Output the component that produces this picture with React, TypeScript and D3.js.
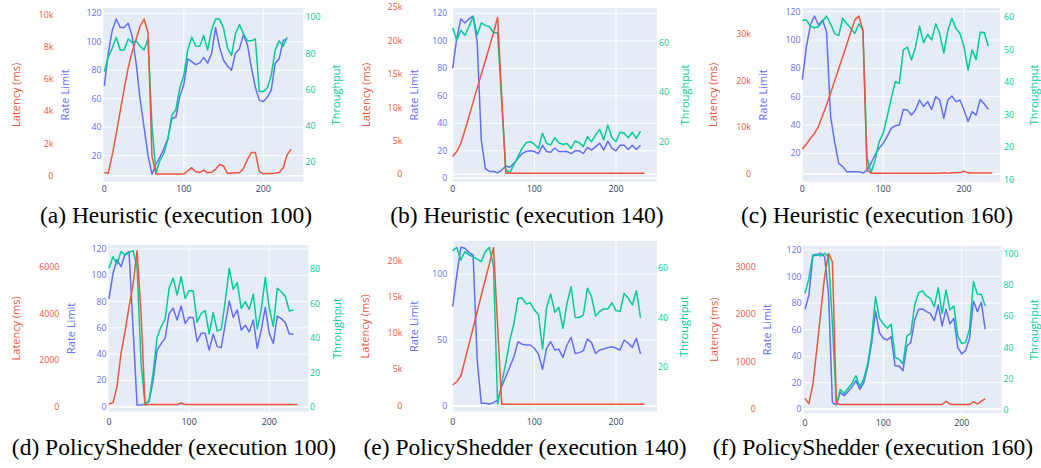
import React from 'react';
import * as d3 from 'd3';

// sample positions (seconds into the run)
const steps = [0, 5, 10, 15, 20, 25, 30, 35, 40, 45, 50, 55, 60, 65, 70, 75, 80, 85, 90, 95, 100, 105, 110, 115, 120,
  125, 130, 135, 140, 145, 150, 155, 160, 165, 170, 175, 180, 185, 190, 195, 200, 205, 210, 215, 220, 225, 230, 235];
const xTicks = [0, 100, 200];

// (a) Heuristic, execution 100
const rateA = [69, 92, 108, 116, 110, 110, 113, 104, 85, 60, 40, 20, 7, 14, 19, 25, 32, 46, 47, 62, 70, 88, 86, 84, 85, 89, 85,
  92, 110, 96, 87, 83, 80, 92, 95, 105, 98, 82, 68, 59, 58, 61, 66, 85, 88, 101, 102];
const thrA = [70, 78, 83, 89, 82, 82, 88, 86, 87, 84, 82, 88, 40, 14, 21, 25, 33, 46, 49, 61, 68, 82, 89, 84, 84, 90, 82,
  93, 99, 99, 94, 83, 79, 91, 96, 91, 87, 87, 88, 59, 59, 61, 68, 82, 87, 84, 89];
const latA = [200, 150, 1300, 2600, 4000, 5400, 6700, 7700, 8500, 9300, 9750, 8900, 1200, 100, 100, 100, 100, 100, 100, 100,
  120, 300, 500, 250, 200, 350, 180, 220, 400, 700, 600, 150, 150, 180, 180, 450, 1000, 1450, 1450, 250, 120, 130, 140, 150,
  200, 500, 1300, 1650];

// (b) Heuristic, execution 140
const rateB = [80, 102, 116, 113, 116, 118, 99, 28, 7, 5, 5, 4, 6, 9, 8, 11, 14.5, 18, 19.5, 20, 19.5, 18, 24, 19.5, 19, 22,
  19.5, 19.5, 19.5, 18, 20, 20, 18, 22.5, 20.5, 23, 25.5, 20.5, 27, 22, 20, 24, 24, 21, 24, 21, 24];
const thrB = [66, 61, 65, 63, 66.5, 70.5, 63, 68, 67, 66.5, 64, 64, 36, 8.6, 7.5, 10.6, 14, 17.3, 19.6, 20, 19, 17.3, 23.4,
  19.3, 18.7, 21.6, 19.6, 18.9, 19.3, 17.3, 20.3, 19.6, 18, 22, 20, 22.7, 25, 20.7, 26.7, 21.6, 20, 23.8, 23.4, 21.6, 23.8,
  21.3, 24.3];
const latB = [2650, 3400, 4650, 6600, 8700, 10800, 12900, 15000, 17000, 19100, 21200, 23500, 11800, 150, 150, 150, 150, 150,
  150, 150, 150, 150, 150, 150, 150, 150, 150, 150, 150, 150, 150, 150, 150, 150, 150, 150, 150, 150, 150, 150, 150, 150, 150,
  150, 150, 150, 150, 150];

// (c) Heuristic, execution 160
const rateC = [72, 95, 110.6, 117, 110.6, 114, 106, 46, 28, 13, 10.6, 7, 7, 7, 7, 6, 8, 13, 19, 23.5, 27, 32, 37.6, 39.5, 40,
  51, 50.6, 47, 50.6, 57.6, 53, 56.5, 51, 60, 57.6, 44.7, 57.6, 60.5, 56.5, 57.6, 50.6, 42.4, 49.4, 47, 58, 55, 51];
const thrC = [59, 59.2, 57.3, 56.8, 57.1, 58.7, 60.4, 58, 55, 54.4, 59.7, 58, 56.6, 55, 58, 56, 17, 12.3, 16, 21.8, 24.3, 29.5,
  35, 40.2, 39.7, 50, 50.8, 46.9, 50.8, 57.3, 52.2, 54.8, 53, 58, 55, 49, 56, 59.7, 56.6, 55, 51, 43.8, 50, 47, 55.4, 55.3, 51.2];
const latC = [5300, 6400, 7600, 8700, 10200, 12500, 14800, 17400, 20000, 22600, 25200, 27800, 30500, 33100, 33900, 30800, 900,
  150, 150, 150, 150, 150, 150, 150, 150, 150, 150, 150, 150, 150, 150, 150, 150, 150, 150, 250, 180, 250, 250, 300, 600, 250,
  200, 200, 200, 200, 200, 200];

// (d) PolicyShedder, execution 100
const rateD = [82, 101.5, 112, 106.5, 116, 118, 60, 1.3, 1.3, 2, 3.8, 20, 43, 48, 52, 71, 75, 66, 76.6, 63.4, 68, 67.7, 49.5,
  55.8, 55.8, 43, 55.3, 45.7, 45, 62.7, 80.4, 68, 73.6, 58.3, 62, 57, 66, 44.4, 58.9, 75.6, 55.8, 48.2, 69, 67, 64, 55.3, 55.3];
const thrD = [80.6, 87.3, 83, 90.2, 88.3, 89.7, 90.8, 81.5, 25.5, 1.4, 4.3, 19.7, 40.6, 46.8, 51, 69, 74.8, 65, 75.7, 63.2,
  67.6, 67.6, 49.3, 54.5, 56, 42.5, 54.9, 44.3, 45.2, 61.3, 80.6, 68.4, 72.3, 57.4, 61.3, 56.8, 65.5, 45.4, 56.8, 75.2, 57.4,
  46.8, 69, 67, 64.2, 55.8, 56.4];
const latD = [140, 200, 880, 2300, 3230, 4290, 5220, 6680, 4000, 100, 120, 120, 120, 120, 120, 120, 120, 120, 180, 120, 120,
  120, 120, 120, 120, 120, 120, 120, 120, 120, 120, 120, 120, 120, 120, 120, 120, 120, 120, 120, 120, 120, 120, 120, 120, 120,
  120, 120];

// (e) PolicyShedder, execution 140
const rateE = [75.4, 99.5, 120.6, 119.8, 116.5, 114.7, 34.8, 1.8, 1.8, 1.3, 2.3, 4.3, 14.5, 22, 29.7, 37.3, 48.7, 46.7, 46.2,
  46.2, 43.7, 39.3, 27.7, 43.7, 48.7, 42.4, 42.9, 36.8, 46.2, 52, 39.8, 40.4, 41.9, 50.8, 48, 39.8, 42.4, 43.1, 44.2, 44.9,
  43.7, 42.4, 50, 47.5, 44.4, 51.3, 39.3];
const thrE = [67.2, 68.5, 63.4, 66.8, 65.4, 64.7, 63.7, 62.7, 66.8, 68.5, 60.7, 4.8, 13.2, 21.4, 30.8, 37.6, 47.8, 48, 45.5,
  46, 43, 41.3, 27.2, 44.1, 49.6, 42.1, 44.1, 35.6, 45.8, 52.5, 40, 40, 41, 51.9, 48.5, 40.6, 42.4, 43.5, 43.5, 46, 42.8, 42.4,
  49.8, 47.8, 45.1, 50.9, 39.9];
const latE = [2850, 3300, 4100, 6300, 8500, 10700, 13000, 15200, 17400, 19600, 21800, 11000, 200, 200, 200, 200, 200, 200,
  200, 200, 200, 200, 200, 200, 200, 200, 200, 200, 200, 200, 200, 200, 200, 200, 200, 200, 200, 200, 200, 200, 200, 200, 200,
  200, 200, 200, 200, 200];

// (f) PolicyShedder, execution 160
const rateF = [75.3, 86, 115.5, 116.2, 117.5, 115, 87.4, 5, 3.3, 12.6, 10.3, 13.3, 17, 21.6, 15, 20, 32, 49.7, 74, 57.7, 53.5,
  52.2, 54.7, 32.6, 32.6, 29, 47.7, 50.2, 67.3, 75.3, 75.6, 73.6, 72.3, 66.8, 78.6, 62.8, 75.3, 64.3, 68.5, 46.7, 41.7, 44.2,
  53.5, 81.6, 73.6, 80.6, 60.3];
const thrF = [74.8, 84.4, 99.4, 99.8, 98.7, 100.4, 98.3, 55, 3.2, 13.2, 10.7, 13.9, 17.1, 22, 15, 19.9, 29.9, 46, 72.6, 58.8,
  55.1, 52.4, 54.9, 33.8, 32.5, 29.5, 47.4, 49.1, 67.3, 75.2, 76.3, 73.1, 71.6, 66.2, 78.4, 62, 76.9, 64.1, 66.7, 47.4, 42.7,
  43.2, 51.9, 82.3, 74.4, 74.1, 66.7];
const latF = [230, 120, 520, 1250, 2020, 2790, 3280, 3100, 120, 100, 100, 100, 100, 100, 100, 100, 100, 100, 100, 100, 100,
  100, 100, 100, 100, 100, 100, 100, 100, 100, 100, 100, 100, 100, 100, 100, 170, 110, 100, 100, 100, 100, 100, 160, 110, 170,
  220];

// axis ticks
const rateTicks120 = [0, 20, 40, 60, 80, 100, 120];
const rateTicks120b = [20, 40, 60, 80, 100, 120];
const rateTicks100 = [0, 50, 100];
const latTicksA = [0, 2000, 4000, 6000, 8000, 10000];
const latTicksB = [0, 5000, 10000, 15000, 20000, 25000];
const latTicksC = [0, 10000, 20000, 30000];
const latTicksD = [0, 2000, 4000, 6000];
const latTicksE = [0, 5000, 10000, 15000, 20000];
const latTicksF = [0, 1000, 2000, 3000];
const thrTicksA = [20, 40, 60, 80, 100];
const thrTicksB = [20, 40, 60];
const thrTicksC = [10, 20, 30, 40, 50, 60];
const thrTicksD = [0, 20, 40, 60, 80];
const thrTicksF = [0, 20, 40, 60, 80, 100];

const RED = '#EF553B';
const BLUE = '#636EFA';
const GREEN = '#00CC96';
const BG = '#E5ECF6';
const AXIS_TXT = '#2a3f5f';
const FONT = '"Open Sans", sans-serif';

type Cal = [number, number, number, number]; // value, px, value, px

const panels = [
  {
    caption: '(a) Heuristic (execution 100)', capX: 176, capY: 223,
    rate: rateA, thr: thrA, lat: latA,
    box: [103.3, 8, 303.3, 181.7], xCal: [0, 104.3, 200, 263.3] as Cal,
    rateCal: [20, 155.7, 120, 13.3] as Cal, rateTicks: rateTicks120b,
    latCal: [0, 175.7, 10000, 15] as Cal, latTicks: latTicksA, kFmt: true,
    thrCal: [20, 162.3, 100, 17.3] as Cal, thrTicks: thrTicksA,
    tickX: [53.3, 101.5, 305.5], titleX: [15.7, 64.3, 335], xLabelY: 188.5,
  },
  {
    caption: '(b) Heuristic (execution 140)', capX: 527, capY: 223,
    rate: rateB, thr: thrB, lat: latB,
    box: [453.3, 8, 657, 181.7], xCal: [0, 452.7, 200, 616] as Cal,
    rateCal: [0, 178.3, 120, 13.3] as Cal, rateTicks: rateTicks120,
    latCal: [0, 174.3, 25000, 7.3] as Cal, latTicks: latTicksB, kFmt: true,
    thrCal: [20, 141.7, 60, 42.7] as Cal, thrTicks: thrTicksB,
    tickX: [402.3, 447.3, 659], titleX: [365, 413.3, 684], xLabelY: 188.5,
  },
  {
    caption: '(c) Heuristic (execution 160)', capX: 877, capY: 223,
    rate: rateC, thr: thrC, lat: latC,
    box: [802.7, 8, 1000, 181.7], xCal: [0, 802.3, 200, 964] as Cal,
    rateCal: [20, 153.3, 120, 11.7] as Cal, rateTicks: rateTicks120b,
    latCal: [0, 174, 30000, 34.3] as Cal, latTicks: latTicksC, kFmt: true,
    thrCal: [10, 180, 60, 17.3] as Cal, thrTicks: thrTicksC,
    tickX: [751, 800.5, 1004], titleX: [712.7, 762.3, 1033.3], xLabelY: 188.5,
  },
  {
    caption: '(d) PolicyShedder (execution 100)', capX: 174, capY: 455,
    rate: rateD, thr: thrD, lat: latD,
    box: [108.3, 245, 308.3, 411.7], xCal: [0, 109, 200, 269.3] as Cal,
    rateCal: [0, 406.7, 120, 249] as Cal, rateTicks: rateTicks120,
    latCal: [0, 407.3, 6000, 266.7] as Cal, latTicks: latTicksD, kFmt: false,
    thrCal: [0, 407.3, 80, 269.3] as Cal, thrTicks: thrTicksD,
    tickX: [59.3, 106.5, 310], titleX: [15.7, 70, 336.7], xLabelY: 421.5,
  },
  {
    caption: '(e) PolicyShedder (execution 140)', capX: 525, capY: 455,
    rate: rateE, thr: thrE, lat: latE,
    box: [453.3, 241, 657, 411.7], xCal: [0, 452.7, 200, 616] as Cal,
    rateCal: [0, 405.7, 100, 274.3] as Cal, rateTicks: rateTicks100,
    latCal: [0, 405.7, 20000, 260.7] as Cal, latTicks: latTicksE, kFmt: true,
    thrCal: [20, 366.7, 60, 268.3] as Cal, thrTicks: thrTicksB,
    tickX: [402.3, 447.3, 658], titleX: [364.3, 413.3, 683.3], xLabelY: 421.7,
  },
  {
    caption: '(f) PolicyShedder (execution 160)', capX: 873, capY: 455,
    rate: rateF, thr: thrF, lat: latF,
    box: [803.3, 246, 1001.7, 413.3], xCal: [0, 805, 200, 961.7] as Cal,
    rateCal: [0, 409.3, 120, 250] as Cal, rateTicks: rateTicks120,
    latCal: [0, 409.3, 3000, 266.7] as Cal, latTicks: latTicksF, kFmt: false,
    thrCal: [0, 410, 100, 254] as Cal, thrTicks: thrTicksF,
    tickX: [755.7, 801.5, 1003.5], titleX: [713.3, 766, 1033.3], xLabelY: 422.5,
  },
];

type Spec = (typeof panels)[number];

const scaleOf = (c: Cal) => d3.scaleLinear().domain([c[0], c[2]]).range([c[1], c[3]]);

function Panel({ p }: { p: Spec }) {
  const [l, t, r, b] = p.box;
  const x = scaleOf(p.xCal);
  const yRate = scaleOf(p.rateCal);
  const yLat = scaleOf(p.latCal);
  const yThr = scaleOf(p.thrCal);
  const mk = (y: d3.ScaleLinear<number, number>) =>
    d3.line<number>().x((_, i) => x(steps[i])).y((v) => y(v));
  const latLabel = (v: number) => (p.kFmt && v !== 0 ? `${v / 1000}k` : `${v}`);
  const midY = (t + b) / 2;

  return (
    <g>
      <rect x={l} y={t} width={r - l} height={b - t} fill={BG} />
      {xTicks.filter((v) => v > 0).map((v) => (
        <line key={'gx' + v} x1={x(v)} x2={x(v)} y1={t} y2={b} stroke="#fff" strokeWidth={0.9} />
      ))}
      {p.rateTicks.map((v) => (
        <line key={'gy' + v} x1={l} x2={r} y1={yRate(v)} y2={yRate(v)} stroke="#fff"
          strokeWidth={v === 0 ? 1.6 : 0.9} />
      ))}
      <line x1={l} x2={r} y1={yLat(0)} y2={yLat(0)} stroke="#fff" strokeWidth={1.6} />

      <path d={mk(yRate)(p.rate) ?? ''} fill="none" stroke={BLUE} strokeWidth={1.5} strokeLinejoin="round" />
      <path d={mk(yThr)(p.thr) ?? ''} fill="none" stroke={GREEN} strokeWidth={1.5} strokeLinejoin="round" />
      <path d={mk(yLat)(p.lat) ?? ''} fill="none" stroke={RED} strokeWidth={1.5} strokeLinejoin="round" />

      <g fontFamily={FONT} fontSize={8.8}>
        {xTicks.map((v) => (
          <text key={'xl' + v} x={x(v)} y={p.xLabelY} fill={AXIS_TXT} textAnchor="middle" dominantBaseline="central">
            {v}
          </text>
        ))}
        {p.latTicks.map((v) => (
          <text key={'ll' + v} x={p.tickX[0]} y={yLat(v)} fill={RED} textAnchor="end" dominantBaseline="central">
            {latLabel(v)}
          </text>
        ))}
        {p.rateTicks.map((v) => (
          <text key={'rl' + v} x={p.tickX[1]} y={yRate(v)} fill={BLUE} textAnchor="end" dominantBaseline="central">
            {v}
          </text>
        ))}
        {p.thrTicks.map((v) => (
          <text key={'tl' + v} x={p.tickX[2]} y={yThr(v)} fill={GREEN} textAnchor="start" dominantBaseline="central">
            {v}
          </text>
        ))}
      </g>
      <g fontFamily={FONT} fontSize={11} textAnchor="middle" dominantBaseline="central">
        <text transform={`translate(${p.titleX[0]},${midY}) rotate(-90)`} fill={RED}>Latency (ms)</text>
        <text transform={`translate(${p.titleX[1]},${midY}) rotate(-90)`} fill={BLUE}>Rate Limit</text>
        <text transform={`translate(${p.titleX[2]},${midY}) rotate(-90)`} fill={GREEN}>Throughput</text>
      </g>
      <text x={p.capX} y={p.capY} textAnchor="middle" fontFamily='"Liberation Serif", "Times New Roman", serif'
        fontSize={23.5} fill="#000">
        {p.caption}
      </text>
    </g>
  );
}

export default function App() {
  return (
    <svg width={1041} height={468} style={{ position: 'absolute', left: 0, top: 0, background: '#fff' }}>
      {panels.map((p) => (
        <Panel key={p.caption} p={p} />
      ))}
    </svg>
  );
}
